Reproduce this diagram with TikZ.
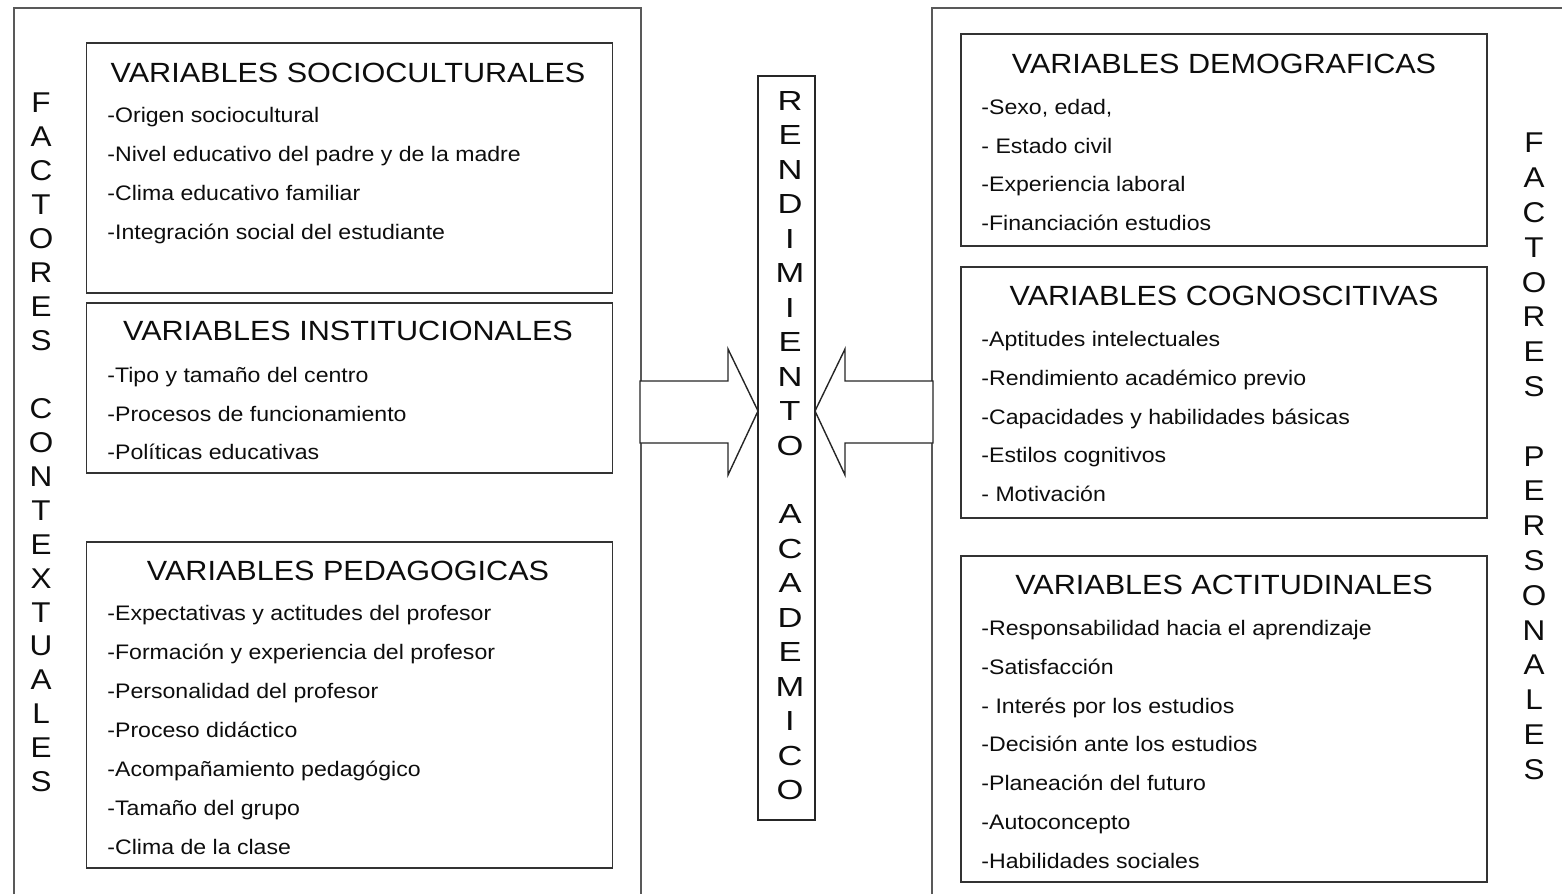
\documentclass[tikz,border=0pt]{standalone}
\usepackage{fontspec}
\setmainfont{Liberation Sans}[FakeStretch=1.1]
\newfontfamily\anchafont{Liberation Sans}[FakeStretch=1.25]
\usepackage{xcolor}

\tikzset{
  marco/.style={draw=black!65, line width=1pt},
  caja/.style={draw=black!80, line width=0.8pt, minimum width=263pt, inner sep=0pt},
  titulo/.style={anchor=base, inner sep=0pt, font=\fontsize{13.9}{16}\selectfont},
  item/.style={anchor=base west, inner sep=0pt, font=\fontsize{10.5}{12}\selectfont},
  letra/.style={inner sep=0pt, font=\fontsize{14.3}{16}\selectfont},
  letraancha/.style={inner sep=0pt, font=\anchafont\fontsize{13.8}{16}\selectfont},
  flecha/.style={draw=black!85, line width=0.7pt, fill=white},
}

\begin{document}
\begin{tikzpicture}[x=0.5pt, y=-0.5pt, every node/.append style={text=black!95}]
            \useasboundingbox (0,0) rectangle (1562,894);

            % marcos de los factores
            \draw[marco] (14,894) -- (14,8) -- (641,8) -- (641,894);
            \draw[marco] (932,894) -- (932,8) -- (1562,8);

            % factores contextuales
            \node[caja, minimum height=125pt] (socio) at (349.5,168) {};
            \node[caja, minimum height=85pt] (inst) at (349.5,388) {};
            \node[caja, minimum height=163pt] (peda) at (349.5,705) {};

            \node[titulo] (socio-t) at (348,82) {VARIABLES SOCIOCULTURALES};
            \node[titulo] (inst-t) at (348,340) {VARIABLES INSTITUCIONALES};
            \node[titulo] (peda-t) at (348,580) {VARIABLES PEDAGOGICAS};

            \foreach \t [count=\i] in {-Origen sociocultural, -Nivel educativo del padre y de la madre,
                -Clima educativo familiar, -Integración social del estudiante}
              \node[item] (socio-\i) at (107,{83.5+39*\i}) {\t};
            \foreach \t [count=\i] in {-Tipo y tamaño del centro, -Procesos de funcionamiento,
                -Políticas educativas}
              \node[item] (inst-\i) at (107,{344+38.5*\i}) {\t};
            \foreach \t [count=\i] in {-Expectativas y actitudes del profesor, -Formación y experiencia del profesor,
                -Personalidad del profesor, -Proceso didáctico, -Acompañamiento pedagógico,
                -Tamaño del grupo, -Clima de la clase}
              \node[item] (peda-\i) at (107,{581.5+39*\i}) {\t};

            % factores personales
            \node[caja, minimum height=106pt] (demo) at (1224,140) {};
            \node[caja, minimum height=125.5pt] (cogn) at (1224,392.5) {};
            \node[caja, minimum height=163pt] (acti) at (1224,719) {};

            \node[titulo] (demo-t) at (1224,73) {VARIABLES DEMOGRAFICAS};
            \node[titulo] (cogn-t) at (1224,305.5) {VARIABLES COGNOSCITIVAS};
            \node[titulo] (acti-t) at (1224,594) {VARIABLES ACTITUDINALES};

            \foreach \t [count=\i] in {{-Sexo, edad,}, - Estado civil, -Experiencia laboral,
                -Financiación estudios}
              \node[item] (demo-\i) at (981,{75.8+38.7*\i}) {\t};
            \foreach \t [count=\i] in {-Aptitudes intelectuales, -Rendimiento académico previo,
                -Capacidades y habilidades básicas, -Estilos cognitivos, - Motivación}
              \node[item] (cogn-\i) at (981,{307.7+38.8*\i}) {\t};
            \foreach \t [count=\i] in {-Responsabilidad hacia el aprendizaje, -Satisfacción,
                - Interés por los estudios, -Decisión ante los estudios, -Planeación del futuro,
                -Autoconcepto, -Habilidades sociales}
              \node[item] (acti-\i) at (981,{596.7+38.8*\i}) {\t};

            % letras verticales
            \foreach \l [count=\i from 0] in {F,A,C,T,O,R,E,S}
              \node[letra] (ctx-a\i) at (41,{103+33.95*\i}) {\l};
            \foreach \l [count=\i from 9] in {C,O,N,T,E,X,T,U,A,L,E,S}
              \node[letra] (ctx-b\i) at (41,{103+33.95*\i}) {\l};
            \foreach \l [count=\i from 0] in {F,A,C,T,O,R,E,S}
              \node[letra] (per-a\i) at (1534,{143+34.8*\i}) {\l};
            \foreach \l [count=\i from 9] in {P,E,R,S,O,N,A,L,E,S}
              \node[letra] (per-b\i) at (1534,{143+34.8*\i}) {\l};

            % rendimiento academico
            \node[draw=black!85, line width=0.8pt, minimum width=28.5pt, minimum height=372pt,
                  inner sep=0pt] (rend) at (786.5,448) {};
            \foreach \l [count=\i from 0] in {R,E,N,D,I,M,I,E,N,T,O}
              \node[letraancha] (rend-a\i) at (790,{101+34.45*\i}) {\l};
            \foreach \l [count=\i from 12] in {A,C,A,D,E,M,I,C,O}
              \node[letraancha] (rend-b\i) at (790,{101+34.45*\i}) {\l};

            % flechas
            \coordinate (punta-izq) at (758,411);
            \coordinate (punta-der) at (815,411);
            \draw[flecha] (640,381) -- (728,381) -- (728,349) -- (punta-izq)
                -- (728,475) -- (728,443) -- (640,443) -- cycle;
            \draw[flecha] (933,381) -- (845,381) -- (845,349) -- (punta-der)
                -- (845,475) -- (845,443) -- (933,443) -- cycle;
        \end{tikzpicture}
\end{document}
